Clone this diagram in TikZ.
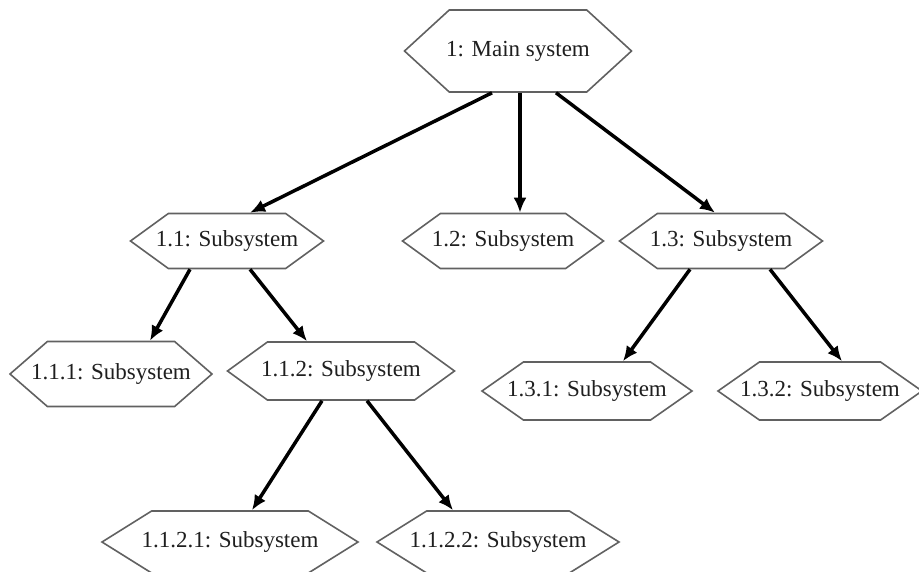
\documentclass[tikz,border=0pt]{standalone}
\usepackage{fontspec}
\setmainfont{Liberation Serif}
\usetikzlibrary{shapes}
\usetikzlibrary{arrows.meta}

\tikzset{
  subsys/.style={signal, signal to=west and east, signal pointer angle=72,
    draw=black!62, line width=1.6pt, fill=white, inner xsep=-40pt, inner ysep=0pt,
    minimum height=58pt, text=black!88, font=\fontsize{23}{25}\selectfont},
  link/.style={line width=3.5pt, -{Latex[length=15pt,width=13pt]}}
}

\begin{document}
\begin{tikzpicture}[x=1pt,y=-1pt]
  \useasboundingbox (0,0) rectangle (919,571);
  % top level
  \node[subsys, signal pointer angle=85, minimum width=227pt, minimum height=82pt] (main) at (518,51) {1: Main system};
  % second level
  \node[subsys, minimum width=193pt, minimum height=55pt] (s11) at (227,241) {1.1: Subsystem};
  \node[subsys, minimum width=201pt, minimum height=55pt] (s12) at (503,241) {1.2: Subsystem};
  \node[subsys, minimum width=203pt, minimum height=55pt] (s13) at (721,241) {1.3: Subsystem};
  % third level
  \node[subsys, signal pointer angle=82, minimum width=202pt, minimum height=65pt] (s111) at (111,374) {1.1.1: Subsystem};
  \node[subsys, minimum width=227pt] (s112) at (341,371) {1.1.2: Subsystem};
  \node[subsys, signal pointer angle=70, minimum width=210pt] (s131) at (587,391) {1.3.1: Subsystem};
  \node[subsys, signal pointer angle=70, minimum width=204pt] (s132) at (820,391) {1.3.2: Subsystem};
  % fourth level
  \node[subsys, signal pointer angle=64, minimum width=256pt, minimum height=62pt] (s1121) at (230,542) {1.1.2.1: Subsystem};
  \node[subsys, signal pointer angle=64, minimum width=242pt, minimum height=62pt] (s1122) at (498,542) {1.1.2.2: Subsystem};

  \draw[link] ([xshift=-26pt]main.south) -- ([xshift=23pt]s11.north);
  \draw[link] ([xshift=2pt]main.south) -- ([xshift=17pt]s12.north);
  \draw[link] ([xshift=38pt]main.south) -- ([xshift=-6pt]s13.north);
  \draw[link] ([xshift=-37pt]s11.south) -- ([xshift=39pt]s111.north);
  \draw[link] ([xshift=23pt]s11.south) -- ([xshift=-34pt]s112.north);
  \draw[link] ([xshift=-19pt]s112.south) -- ([xshift=22pt]s1121.north);
  \draw[link] ([xshift=26pt]s112.south) -- ([xshift=-45pt]s1122.north);
  \draw[link] ([xshift=-31pt]s13.south) -- ([xshift=36pt]s131.north);
  \draw[link] ([xshift=49pt]s13.south) -- ([xshift=22pt]s132.north);
\end{tikzpicture}
\end{document}
